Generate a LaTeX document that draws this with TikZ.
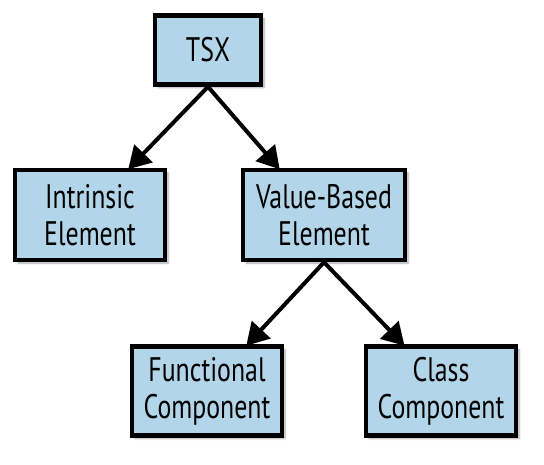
\documentclass[tikz,border=0pt]{standalone}
\usepackage{fontspec}
\setmainfont{PT Sans}[FakeStretch=0.76]
\usetikzlibrary{arrows.meta,shadows.blur}
\definecolor{boxblue}{RGB}{178,213,233}
\tikzstyle{box}=[draw, line width=4.5pt, fill=boxblue, align=center, inner sep=0pt,
    font=\fontsize{34}{37}\selectfont,
    blur shadow={shadow xshift=3pt, shadow yshift=-3pt, shadow blur steps=6, shadow opacity=35}]
\tikzstyle{link}=[line width=4pt, -{Triangle[length=22pt,width=25pt]}, shorten >=-2pt]

\begin{document}
\begin{tikzpicture}[x=1pt, y=-1pt]
        \useasboundingbox (0,0) rectangle (544,464);

        % tree of boxes
        \node[box, minimum width=106pt, minimum height=69pt] (tsx) at (208,50) {TSX};
        \node[box, minimum width=150pt, minimum height=90pt] (intrinsic) at (90,215) {Intrinsic\\Element};
        \node[box, minimum width=162pt, minimum height=90pt] (valuebased) at (324,215) {Value-Based\\Element};
        \node[box, minimum width=150pt, minimum height=89pt] (functional) at (207,391) {Functional\\Component};
        \node[box, minimum width=150pt, minimum height=89pt] (class) at (441,391) {Class\\Component};

        % arrows
        \draw[link] (tsx.south) -- (intrinsic.50);
        \draw[link] (tsx.south) -- (valuebased.134);
        \draw[link] (valuebased.south) -- (functional.49);
        \draw[link] (valuebased.south) -- (class.129);
    \end{tikzpicture}
\end{document}
